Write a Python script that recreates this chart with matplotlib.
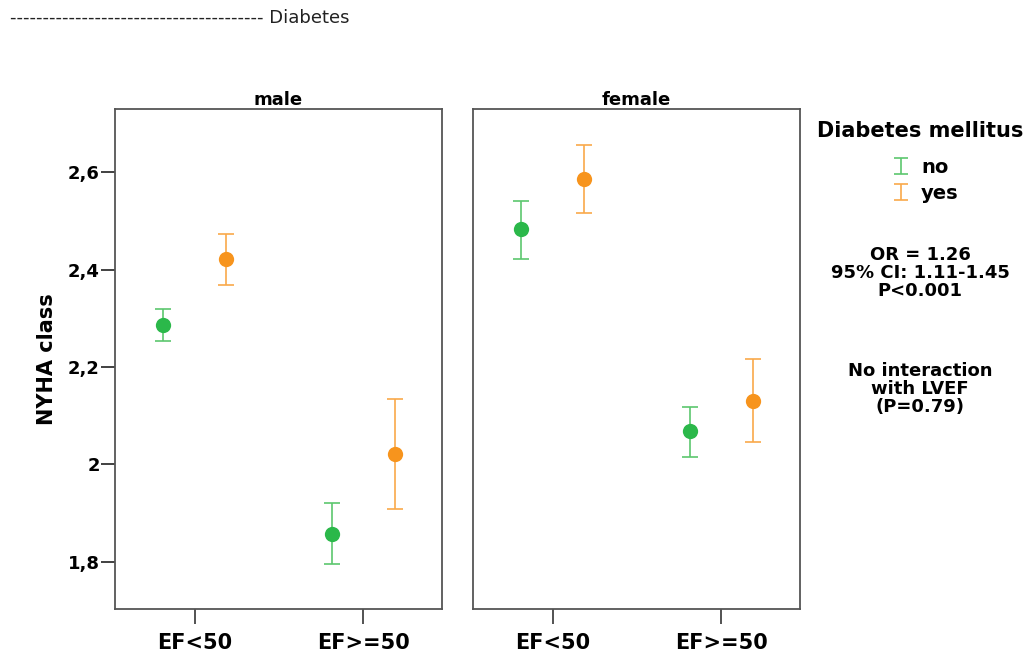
import numpy as np
import matplotlib
matplotlib.use("Agg")
import matplotlib.pyplot as plt
from matplotlib.ticker import FuncFormatter
from matplotlib.container import ErrorbarContainer
from matplotlib.legend_handler import HandlerErrorbar

plt.rcParams['font.family'] = ['DejaVu Sans']

groups = ["EF<50", "EF>=50"]
panels = ["male", "female"]
series = ["no", "yes"]
colors = {"no": "#2bb84a", "yes": "#f7941d"}
bar_colors = {"no": "#5cc76e", "yes": "#f9a94a"}

# mean, lower, upper for each panel / series, ordered by group
mean = {
    ("male", "no"): [2.286, 1.858],
    ("male", "yes"): [2.421, 2.022],
    ("female", "no"): [2.483, 2.068],
    ("female", "yes"): [2.586, 2.131],
}
lower = {
    ("male", "no"): [2.253, 1.796],
    ("male", "yes"): [2.368, 1.909],
    ("female", "no"): [2.421, 2.016],
    ("female", "yes"): [2.516, 2.045],
}
upper = {
    ("male", "no"): [2.320, 1.920],
    ("male", "yes"): [2.473, 2.135],
    ("female", "no"): [2.542, 2.117],
    ("female", "yes"): [2.656, 2.216],
}
offsets = {"no": -0.1875, "yes": 0.1875}

fig = plt.figure(figsize=(10.31, 6.58), dpi=100)
ax1 = fig.add_axes([115 / 1031, 1 - 609 / 658, 327 / 1031, 500 / 658])
ax2 = fig.add_axes([473 / 1031, 1 - 609 / 658, 327 / 1031, 500 / 658], sharey=ax1)

for ax, panel in zip([ax1, ax2], panels):
    x = np.arange(len(groups))
    for s in series:
        m = np.array(mean[(panel, s)])
        lo = np.array(lower[(panel, s)])
        hi = np.array(upper[(panel, s)])
        ax.errorbar(x + offsets[s], m, yerr=[m - lo, hi - m], fmt='none',
                    ecolor=bar_colors[s], elinewidth=1.2, capsize=6, capthick=1.2)
        ax.plot(x + offsets[s], m, 'o', color=colors[s], ms=11, mec='none')
    ax.set_xlim(-0.476, 1.470)
    ax.set_ylim(1.703, 2.73)
    ax.set_xticks(x)
    ax.set_xticklabels(groups, fontsize=15, fontweight='bold')
    ax.set_title(panel, fontsize=13, fontweight='bold', pad=3)
    for sp in ax.spines.values():
        sp.set_color('#555555')
        sp.set_linewidth(1.3)
    ax.tick_params(axis='x', length=11, width=1.3, color='#444444', pad=6)

ax1.set_yticks([1.8, 2.0, 2.2, 2.4, 2.6])
ax1.yaxis.set_major_formatter(FuncFormatter(lambda v, p: ("%g" % round(v, 1)).replace('.', ',')))
ax1.tick_params(axis='y', length=10, width=1.3, color='#333333', labelsize=13, pad=1)
for lab in ax1.get_yticklabels():
    lab.set_fontweight('bold')
ax1.set_ylabel("NYHA class", fontsize=15, fontweight='bold', labelpad=8)
ax2.tick_params(axis='y', left=False, labelleft=False)

# legend handles (error-bar glyphs)
handles = []
for s in series:
    h = ax1.errorbar([np.nan], [np.nan], yerr=[[0.1], [0.1]], fmt='none',
                     ecolor=bar_colors[s], elinewidth=1.2, capsize=5, capthick=1.2, label=s)
    handles.append(h)
fig.text(920 / 1031, 1 - 131 / 658, "Diabetes mellitus", ha='center', va='center',
         fontsize=15, fontweight='bold')
leg = fig.legend(handles=handles, labels=series, loc='upper left',
                 bbox_to_anchor=(883 / 1031, 1 - 148 / 658),
                 frameon=False, fontsize=14, handlelength=0.9, handletextpad=0.55,
                 labelspacing=0.35, borderpad=0,
                 handler_map={ErrorbarContainer: HandlerErrorbar(yerr_size=0.4)})
for t in leg.get_texts():
    t.set_fontweight('bold')

fig.text(920 / 1031, 1 - 273 / 658, "OR = 1.26\n95% CI: 1.11-1.45\nP<0.001",
         ha='center', va='center', fontsize=13, fontweight='bold', linespacing=1.0)
fig.text(920 / 1031, 1 - 389 / 658, "No interaction\nwith LVEF\n(P=0.79)",
         ha='center', va='center', fontsize=13, fontweight='bold', linespacing=1.0)

fig.text(10 / 1031, 1 - 18 / 658, "--------------------------------------- Diabetes",
         ha='left', va='center', fontsize=13, color='#222222')

fig.savefig("out.png", dpi=100)
